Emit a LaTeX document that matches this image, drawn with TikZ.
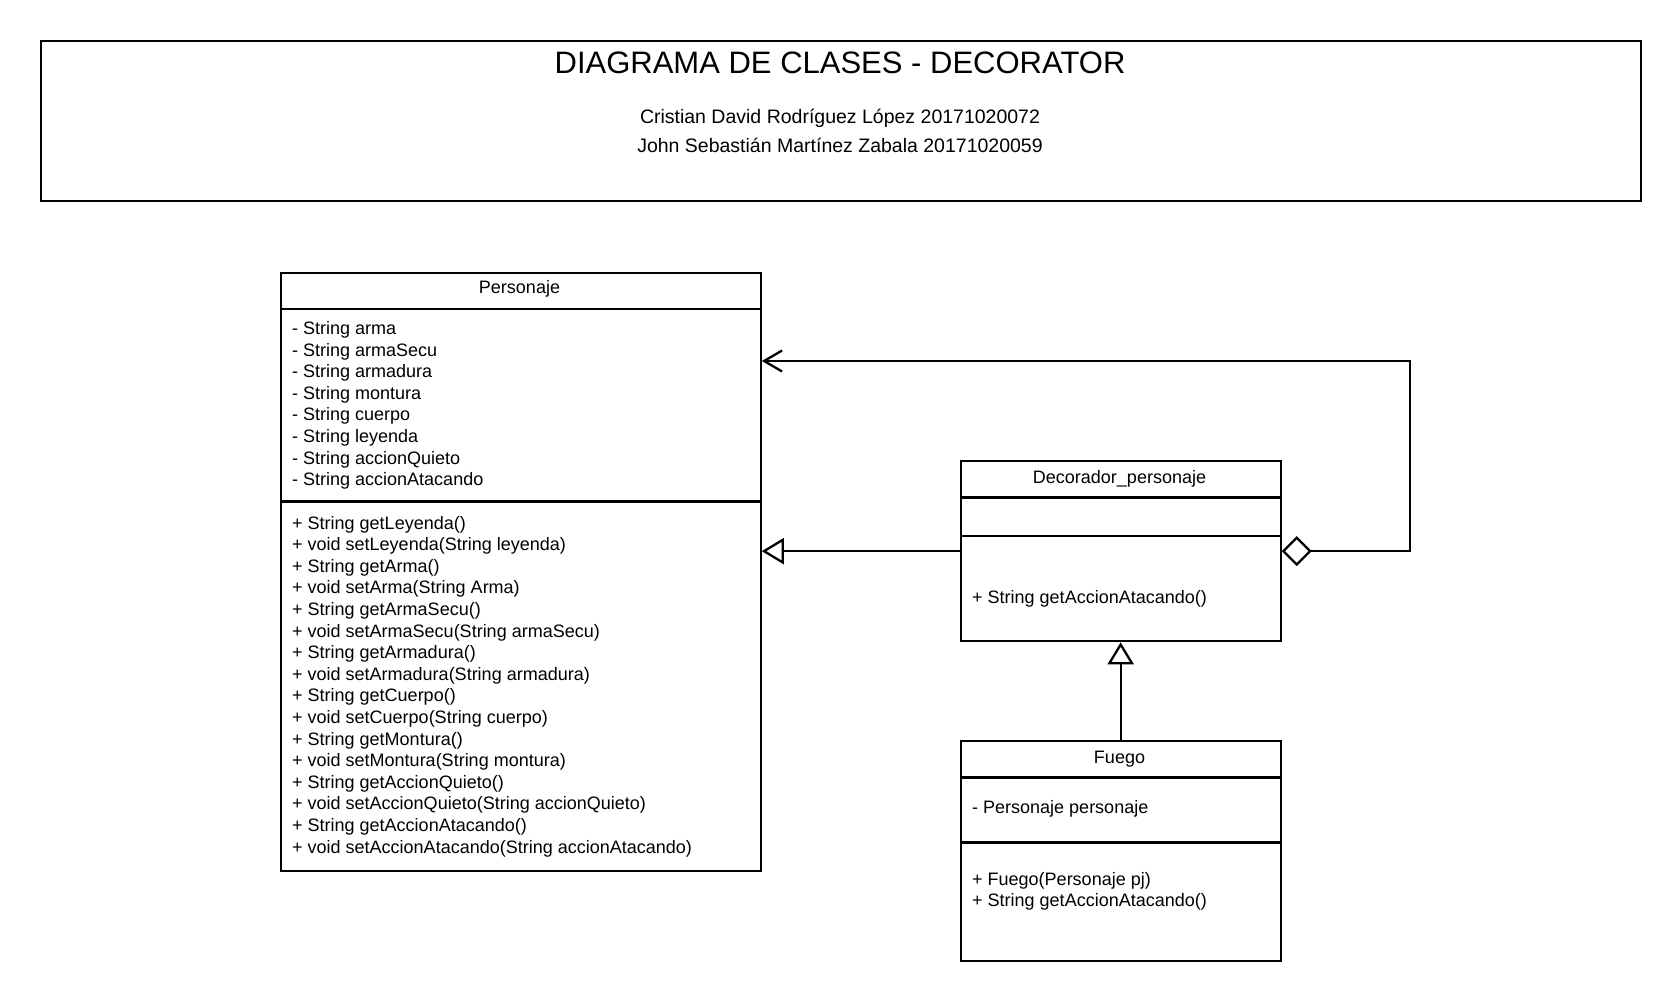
\documentclass[tikz,border=0pt]{standalone}
\usepackage{fontspec}
\setmainfont{Liberation Sans}
\usetikzlibrary{arrows.meta}
\tikzset{
  box/.style={draw=black, line width=2.3pt, inner sep=0pt, anchor=north west},
  divider/.style={draw=black, line width=2.3pt},
  txt/.style={anchor=base west, inner sep=0pt, font=\fontsize{18}{21.6}\selectfont},
  hdr/.style={anchor=base, inner sep=0pt, font=\fontsize{18}{21.6}\selectfont},
  conn/.style={draw=black, line width=2.3pt, line join=miter},
  gen/.style={conn, -{Triangle[open, length=22pt, width=26pt, fill=white]}},
  agg/.style={conn, {Straight Barb[length=18pt, width=21pt]}-{Diamond[open, length=30pt, width=30pt, fill=white]}}
}
\begin{document}
\begin{tikzpicture}[x=1pt, y=-1pt]
\useasboundingbox (0,0) rectangle (1680,1000);
\fill[white] (0,0) rectangle (1680,1000);

% Title box
\node[box, minimum width=1600pt, minimum height=160pt] (title) at (39.5,40) {};
\node[anchor=base, inner sep=0pt, font=\fontsize{31}{37}\selectfont] (ttl) at (840,73.5) {DIAGRAMA DE CLASES - DECORATOR};
\node[anchor=base, inner sep=0pt, font=\fontsize{19.5}{29}\selectfont] (au1) at (840,123.3) {Cristian David Rodríguez López 20171020072};
\node[anchor=base, inner sep=0pt, font=\fontsize{19.5}{29}\selectfont] (au2) at (840,152.8) {John Sebastián Martínez Zabala 20171020059};

% Personaje
\node[box, minimum width=480pt, minimum height=598.5pt] (pers) at (279.5,271.5) {};
\draw[divider] (pers.west |- 0,309) -- (pers.east |- 0,309);
\draw[divider] (pers.west |- 0,501.5) -- (pers.east |- 0,501.5);
\node[hdr] (persname) at (519.5,293.5) {Personaje};
\foreach \t [count=\i from 0] in {{- String arma},{- String armaSecu},{- String armadura},{- String montura},{- String cuerpo},{- String leyenda},{- String accionQuieto},{- String accionAtacando}}
  \node[txt] (pa\i) at (292,334.4+21.6*\i) {\t};
\foreach \t [count=\i from 0] in {{+ String getLeyenda()},{+ void setLeyenda(String leyenda)},{+ String getArma()},{+ void setArma(String Arma)},{+ String getArmaSecu()},{+ void setArmaSecu(String armaSecu)},{+ String getArmadura()},{+ void setArmadura(String armadura)},{+ String getCuerpo()},{+ void setCuerpo(String cuerpo)},{+ String getMontura()},{+ void setMontura(String montura)},{+ String getAccionQuieto()},{+ void setAccionQuieto(String accionQuieto)},{+ String getAccionAtacando()},{+ void setAccionAtacando(String accionAtacando)}}
  \node[txt] (pm\i) at (292,529+21.6*\i) {\t};

% Decorador_personaje
\node[box, minimum width=320pt, minimum height=180pt] (deco) at (959.5,460) {};
\draw[divider] (deco.west |- 0,497.5) -- (deco.east |- 0,497.5);
\draw[divider] (deco.west |- 0,536) -- (deco.east |- 0,536);
\node[hdr] (deconame) at (1119.5,483) {Decorador\_personaje};
\node[txt] (dm0) at (972,603) {+ String getAccionAtacando()};

% Fuego
\node[box, minimum width=320pt, minimum height=220pt] (fuego) at (959.5,740) {};
\draw[divider] (fuego.west |- 0,777.5) -- (fuego.east |- 0,777.5);
\draw[divider] (fuego.west |- 0,842.5) -- (fuego.east |- 0,842.5);
\node[hdr] (fuegoname) at (1119.5,763) {Fuego};
\node[txt] (fa0) at (972,813.3) {- Personaje personaje};
\node[txt] (fm0) at (972,885) {+ Fuego(Personaje pj)};
\node[txt] (fm1) at (972,906.6) {+ String getAccionAtacando()};

% Connectors
\coordinate (bend) at (1410,361);
\draw[gen] (deco.west) -- (deco.west -| pers.east);
\draw[gen] (fuego.north) -- (deco.south);
\draw[agg] (pers.east |- bend) -- (bend) |- (deco.east);
\end{tikzpicture}
\end{document}
